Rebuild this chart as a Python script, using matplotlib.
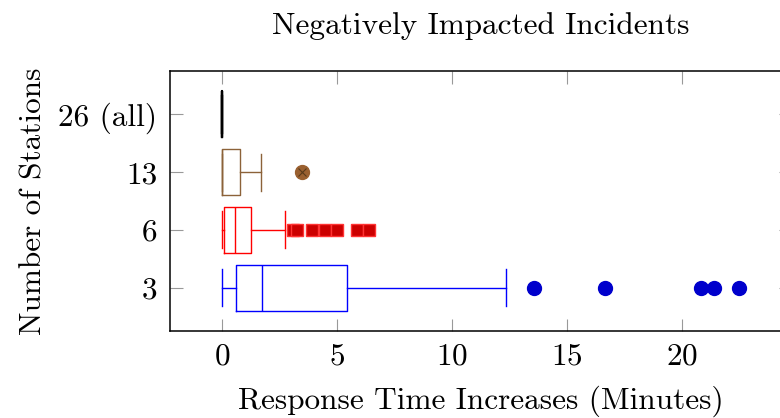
import matplotlib
matplotlib.use("Agg")
import matplotlib.pyplot as plt

plt.rcParams['font.family'] = ['cmr10', 'DejaVu Serif']
plt.rcParams['mathtext.fontset'] = 'cm'
plt.rcParams['axes.formatter.use_mathtext'] = True

# Categories (bottom to top)
categories = ["3", "6", "13", "26 (all)"]
colors = ["#0000ff", "#ff0000", "#8c6239", "#000000"]
flier_fill = ["#0000cc", "#cc0000", "#9a6030", "#000000"]

# Box statistics (minutes)
whislo = [0.0, 0.03, 0.0, 0.0]
q1 = [0.6, 0.1, 0.0, 0.0]
med = [1.77, 0.58, 0.03, 0.0]
q3 = [5.45, 1.25, 0.78, 0.0]
whishi = [12.38, 2.74, 1.7, 0.0]
fliers = [
    [13.58, 16.65, 20.83, 21.39, 22.48],
    [3.1, 3.25, 3.94, 4.49, 5.0, 5.87, 6.39],
    [3.5],
    [],
]

title = "Negatively Impacted Incidents"
xlabel = "Response Time Increases (Minutes)"
ylabel = "Number of Stations"
xticks = [0, 5, 10, 15, 20]

fig = plt.figure(figsize=(7.8, 4.18), dpi=100)
ax = fig.add_axes([170/780, 1-331/418, (791-170)/780, (331-71)/418])

for i in range(len(categories)):
    stats = [dict(whislo=whislo[i], q1=q1[i], med=med[i], q3=q3[i],
                  whishi=whishi[i], fliers=fliers[i])]
    c = colors[i]
    if i == 1:
        fp = dict(marker='s', markerfacecolor=flier_fill[i], markeredgecolor='#ff3333',
                  markersize=9, markeredgewidth=1.0, linestyle='none')
    else:
        fp = dict(marker='o', markerfacecolor=flier_fill[i], markeredgecolor=flier_fill[i],
                  markersize=10, linestyle='none')
    lw = 1.0 if i < 3 else 1.6
    ax.bxp(stats, positions=[i + 1], vert=False, widths=0.8,
           boxprops=dict(color=c, linewidth=lw),
           medianprops=dict(color=c, linewidth=lw),
           whiskerprops=dict(color=c, linewidth=lw),
           capprops=dict(color=c, linewidth=lw),
           capwidths=0.64,
           flierprops=fp, showfliers=True)
    if i == 2:
        for f in fliers[i]:
            ax.plot([f], [i + 1], marker='x', color='#5a3a1a', markersize=6,
                    markeredgewidth=0.8, linestyle='none', zorder=4)

ax.set_xlim(-2.25, 24.75)
ax.set_ylim(0.25, 4.75)
ax.set_xticks(xticks)
ax.set_yticks(range(1, len(categories) + 1))
ax.set_yticklabels(categories)

fs = 22.5
ax.tick_params(direction='in', length=9, width=0.8, color='#999999',
               top=True, right=True, labelsize=fs)
ax.tick_params(axis='y', pad=9)
ax.tick_params(axis='x', pad=8)
for s in ax.spines.values():
    s.set_linewidth(1.1)

ax.set_title(title, fontsize=fs, pad=27)
ax.set_xlabel(xlabel, fontsize=fs, labelpad=11)
ax.set_ylabel(ylabel, fontsize=fs, labelpad=8)

fig.savefig("out.png", dpi=100)
